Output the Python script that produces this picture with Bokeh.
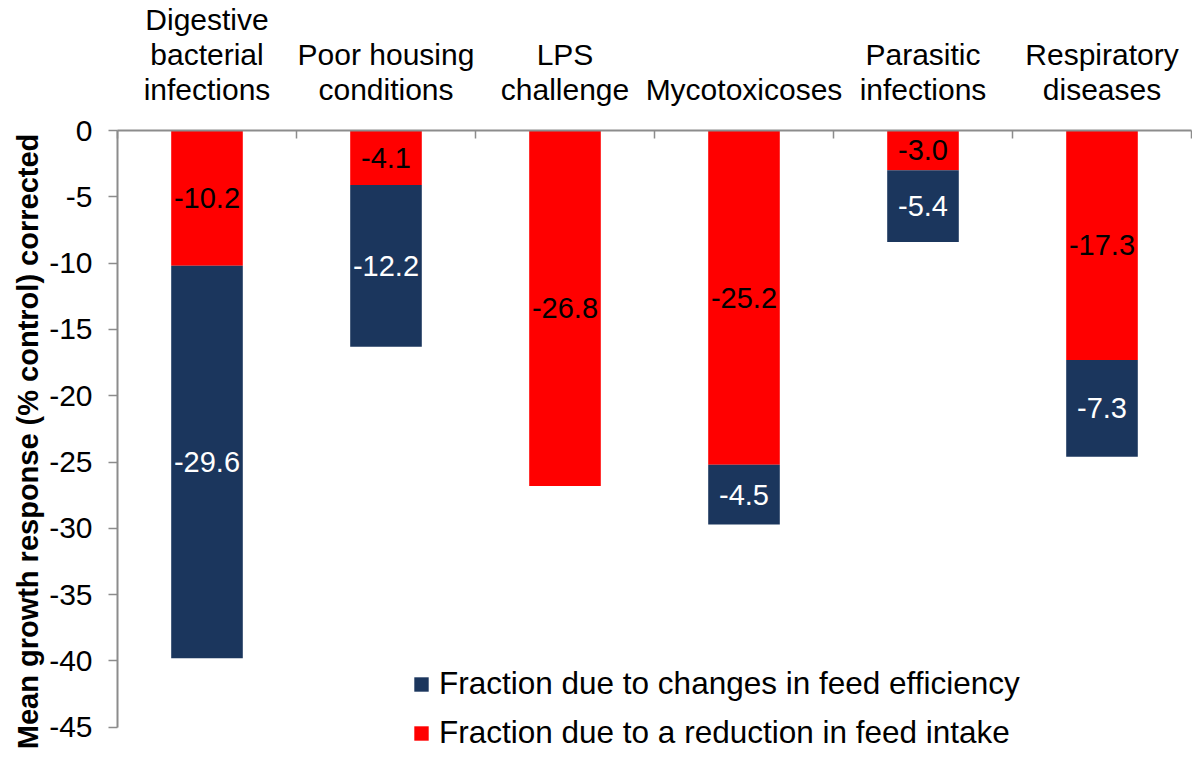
from bokeh.plotting import figure
from bokeh.models import ColumnDataSource, Range1d, FixedTicker, Legend, LegendItem
from bokeh.embed import file_html
from bokeh.resources import INLINE
from bokeh.core.properties import value

# ---- data ----
categories = ["Digestive\nbacterial\ninfections", "Poor housing\nconditions", "LPS\nchallenge",
              "Mycotoxicoses", "Parasitic\ninfections", "Respiratory\ndiseases"]
intake = [-10.2, -4.1, -26.8, -25.2, -3.0, -17.3]        # reduction in feed intake (red)
efficiency = [-29.6, -12.2, 0.0, -4.5, -5.4, -7.3]       # changes in feed efficiency (navy)
y_ticks = [0, -5, -10, -15, -20, -25, -30, -35, -40, -45]
y_tick_labels = ["0", "-5", "-10", "-15", "-20", "-25", "-30", "-35", "-40", "-45"]
series_names = ["Fraction due to changes in feed efficiency",
                "Fraction due to a reduction in feed intake"]
y_title = "Mean growth response (% control) corrected"

FONT = "Liberation Sans"
RED = "#FF0000"
NAVY = "#1B365D"
GRAY = "#8C8C8C"

n = len(categories)
xs = [i + 0.5 for i in range(n)]
total = [a + b for a, b in zip(intake, efficiency)]

src = ColumnDataSource(dict(x=xs, intake=intake, total=total))

p = figure(width=1192, height=752, x_range=Range1d(0, n), y_range=Range1d(-46.9, 0),
           output_backend="svg", toolbar_location=None, x_axis_location="above",
           min_border_left=117, min_border_right=1, min_border_top=130, min_border_bottom=0)
p.outline_line_color = None
p.xgrid.visible = False
p.ygrid.visible = False
p.background_fill_color = "white"
p.border_fill_color = "white"

# x axis (top): labels at category centres, ticks at category boundaries
xa = p.xaxis[0]
xa.ticker = FixedTicker(ticks=xs, minor_ticks=list(range(n + 1)))
xa.major_label_overrides = {xv: c for xv, c in zip(xs, categories)}
xa.major_tick_line_color = None
xa.minor_tick_in = 8
xa.minor_tick_out = 0
xa.minor_tick_line_color = GRAY
xa.minor_tick_line_width = 1.5
xa.axis_line_color = GRAY
xa.axis_line_width = 2
xa.major_label_text_font = FONT
xa.major_label_text_font_size = "30px"
xa.major_label_text_color = "black"
xa.major_label_text_line_height = 1.05
xa.major_label_standoff = 19

# y axis
ya = p.yaxis[0]
ya.ticker = FixedTicker(ticks=y_ticks, minor_ticks=[])
ya.major_label_overrides = {v: t for v, t in zip(y_ticks, y_tick_labels)}
ya.bounds = (-45, 0)
ya.major_tick_out = 9
ya.major_tick_in = 0
ya.major_tick_line_color = GRAY
ya.major_tick_line_width = 1.5
ya.axis_line_color = GRAY
ya.axis_line_width = 2
ya.major_label_text_font = FONT
ya.major_label_text_font_size = "30px"
ya.major_label_text_color = "black"
ya.major_label_standoff = 16
ya.axis_label = y_title
ya.axis_label_text_font = FONT
ya.axis_label_text_font_size = "29px"
ya.axis_label_text_font_style = "bold"
ya.axis_label_text_color = "black"
ya.axis_label_standoff = 2

# bars
r_int = p.vbar(x="x", bottom=0, top="intake", width=0.4, source=src,
               fill_color=RED, line_color=None)
r_eff = p.vbar(x="x", bottom="intake", top="total", width=0.4, source=src,
               fill_color=NAVY, line_color=None)

# value labels
lab_int = ColumnDataSource(dict(x=xs, y=[v / 2 for v in intake],
                                t=["%.1f" % v for v in intake]))
ex, ey, et = [], [], []
for xv, a, b in zip(xs, intake, efficiency):
    if b != 0:
        ex.append(xv)
        ey.append(a + b / 2)
        et.append("%.1f" % b)
lab_eff = ColumnDataSource(dict(x=ex, y=ey, t=et))

p.text(x="x", y="y", text="t", source=lab_int, text_align="center", text_baseline="middle",
       text_font=value(FONT), text_font_size="29px", text_color="black")
p.text(x="x", y="y", text="t", source=lab_eff, text_align="center", text_baseline="middle",
       text_font=value(FONT), text_font_size="29px", text_color="white")

# legend
legend = Legend(items=[LegendItem(label=series_names[0], renderers=[r_eff]),
                       LegendItem(label=series_names[1], renderers=[r_int])],
                location=(295, 1), orientation="vertical")
legend.background_fill_alpha = 0
legend.border_line_color = None
legend.padding = 0
legend.margin = 0
legend.spacing = 12
legend.glyph_width = 18
legend.glyph_height = 18
legend.label_height = 34
legend.label_standoff = 9
legend.label_text_font = FONT
legend.label_text_font_size = "31.5px"
legend.label_text_color = "black"
legend.label_text_baseline = "middle"
p.add_layout(legend)

open("out.html", "w").write(file_html(p, INLINE))
